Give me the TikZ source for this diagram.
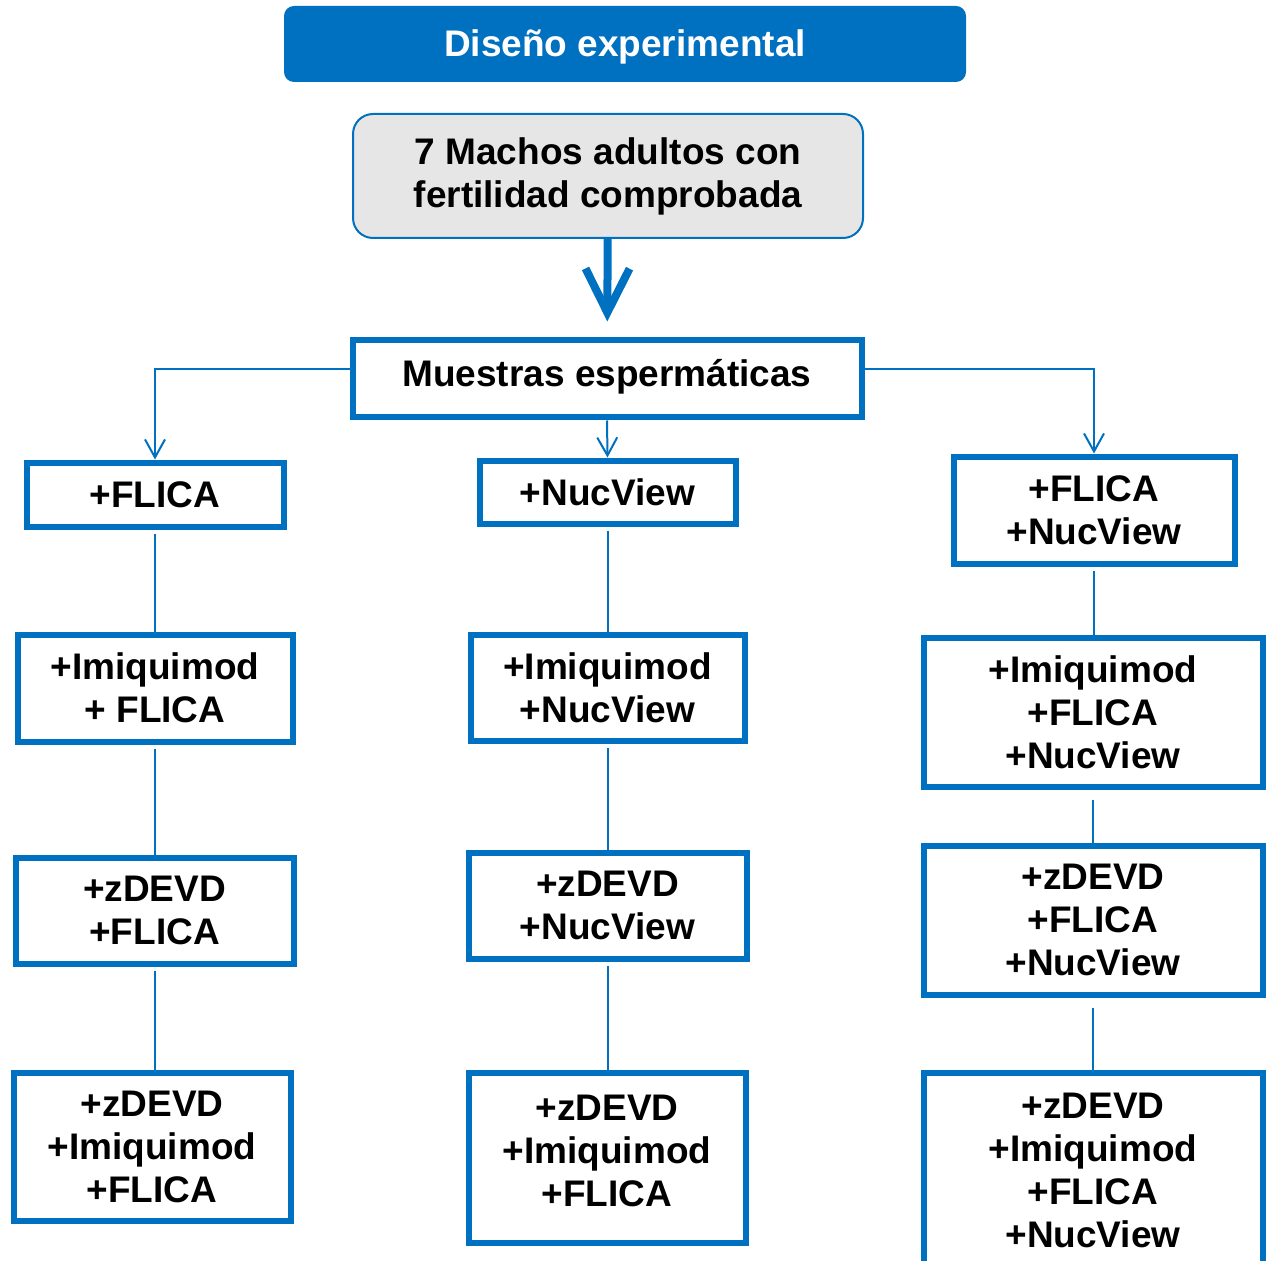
\documentclass[tikz,border=0pt]{standalone}
\usepackage{fontspec}
\setmainfont{Liberation Sans}
\usepackage{tikz}
\usetikzlibrary{positioning,arrows.meta}
\definecolor{cBlue}{HTML}{0070C0}
\definecolor{cGray}{HTML}{E6E6E6}

\begin{document}
\begin{tikzpicture}[
  x=0.5pt,y=-0.5pt,
  font=\fontsize{18.5}{21.5}\selectfont\bfseries,
  box/.style    ={draw=cBlue,line width=3pt,fill=white,align=center,inner sep=0pt},
  title/.style  ={rounded corners=5pt,fill=cBlue,text=white,align=center,inner sep=0pt},
  group/.style  ={rounded corners=10pt,draw=cBlue,line width=1pt,fill=cGray,align=center,inner sep=0pt},
  link/.style   ={cBlue,line width=1pt},
  branch/.style ={link,-{Straight Barb[length=9pt,width=10pt]}},
  bigflow/.style={cBlue,line width=4pt,-{Straight Barb[length=22pt,width=22pt]}},
]
\clip (0,0) rectangle (1267,1261);

% =====================================================================
% TOP: TITLE, ANIMALS AND SAMPLES
% =====================================================================
\node[title,minimum width=341pt,minimum height=38pt,text height=15pt,text depth=2pt] (titulo) at (625,44) {Diseño experimental};
\node[group,minimum width=255pt,minimum height=62pt] (machos) at (608,176)
  {7 Machos adultos con\\fertilidad comprobada};
\node[box,minimum width=254.5pt,minimum height=38.5pt,text height=13pt,text depth=5pt] (muestras) at (607,379)
  {Muestras espermáticas};

\draw[bigflow,shorten >=8pt] (machos) -- (muestras);

% =====================================================================
% COLUMN 1: FLICA
% =====================================================================
\node[box,minimum width=128.5pt,minimum height=32pt]   (flica)    at (155,494.5)  {+FLICA};
\node[box,minimum width=137.5pt,minimum height=53.5pt] (imiqF)    at (155,688)    {+Imiquimod\\+ FLICA};
\node[box,minimum width=139pt,minimum height=53pt]     (zdevdF)   at (154.5,910.5){+zDEVD\\+FLICA};
\node[box,minimum width=138.5pt,minimum height=74pt]   (zdevdImF) at (152,1146.5) {+zDEVD\\+Imiquimod\\+FLICA};

% =====================================================================
% COLUMN 2: NUCVIEW
% =====================================================================
\node[box,minimum width=128pt,minimum height=31.5pt]   (nuc)      at (607.5,492)   {+NucView};
\node[box,minimum width=137pt,minimum height=53pt]     (imiqN)    at (607.5,687.5) {+Imiquimod\\+NucView};
\node[box,minimum width=139pt,minimum height=53pt]     (zdevdN)   at (607.5,905.5) {+zDEVD\\+NucView};
% text sits high in this one
\node[box,minimum width=138.5pt,minimum height=85pt,text height=67pt,text depth=18pt] (zdevdImN) at (607,1157.5) {+zDEVD\\+Imiquimod\\+FLICA};

% =====================================================================
% COLUMN 3: FLICA + NUCVIEW
% =====================================================================
\node[box,minimum width=140.5pt,minimum height=53.5pt] (ambos)     at (1094,510)  {+FLICA\\+NucView};
\node[box,minimum width=169.5pt,minimum height=74.5pt] (imiqFN)    at (1093,712)  {+Imiquimod\\+FLICA\\+NucView};
\node[box,minimum width=169.5pt,minimum height=74.5pt] (zdevdFN)   at (1093,920)  {+zDEVD\\+FLICA\\+NucView};
\node[box,minimum width=169.5pt,minimum height=97.5pt] (zdevdImFN) at (1093,1170) {+zDEVD\\+Imiquimod\\+FLICA\\+NucView};

% branches from the samples box
\draw[branch] ([yshift=5pt]muestras.west) -| (flica.north);
\draw[branch] (muestras.south) -- (nuc.north);
\draw[branch] ([yshift=5pt]muestras.east) -| (ambos.north);

% plain links down each column
\draw[link,shorten <=2pt] (flica.south)  -- (flica.south |- imiqF.north);
\draw[link,shorten <=2pt] (imiqF.south)  -- (imiqF.south |- zdevdF.north);
\draw[link,shorten <=2pt] (zdevdF.south) -- (zdevdF.south |- zdevdImF.north);
\draw[link,shorten <=2pt] (nuc.south)    -- (nuc.south |- imiqN.north);
\draw[link,shorten <=2pt] (imiqN.south)  -- (imiqN.south |- zdevdN.north);
\draw[link,shorten <=2pt] (zdevdN.south) -- (zdevdN.south |- zdevdImN.north);
\draw[link,shorten <=2pt] (ambos.south)   -- (ambos.south |- imiqFN.north);
\draw[link,shorten <=5pt] (imiqFN.south)  -- (imiqFN.south |- zdevdFN.north);
\draw[link,shorten <=5pt] (zdevdFN.south) -- (zdevdFN.south |- zdevdImFN.north);

\end{tikzpicture}
\end{document}
